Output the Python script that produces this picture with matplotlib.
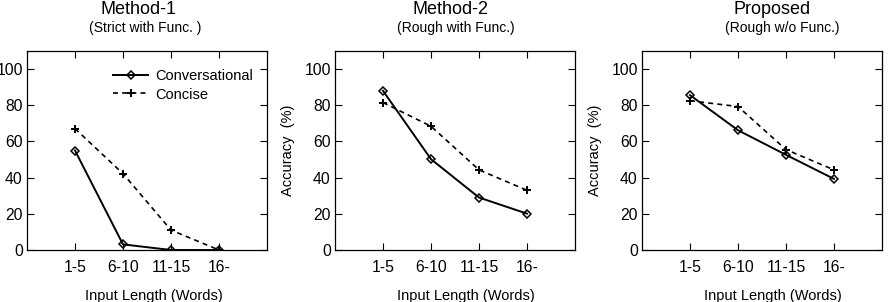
import matplotlib
matplotlib.use("Agg")
import matplotlib.pyplot as plt

plt.rcParams['font.family'] = ['Liberation Sans', 'DejaVu Sans']

categories = ['1-5', '6-10', '11-15', '16-']
titles = ['Method-1', 'Method-2', 'Proposed']
subtitles = ['(Strict with Func. )', '(Rough with Func.)', '(Rough w/o Func.)']

conversational = [
    [55.0, 3.1, 0.0, 0.0],
    [88.0, 50.2, 29.0, 20.1],
    [85.6, 66.2, 52.6, 39.3],
]
concise = [
    [67.1, 42.2, 11.0, 0.0],
    [81.5, 68.4, 44.3, 33.0],
    [82.5, 79.3, 55.5, 44.3],
]
yticks = [0, 20, 40, 60, 80, 100]

W, H = 890, 302
fig = plt.figure(figsize=(W / 100, H / 100), dpi=100)

lefts = [27, 335, 642]
aw, top, bottom = 240, 51, 250
title_x = [139, 450, 772]
sub_x = [145, 456, 782]
xlab_x = [154, 466, 773]

x = list(range(1, len(categories) + 1))
for i in range(3):
    ax = fig.add_axes([lefts[i] / W, 1 - bottom / H, aw / W, (bottom - top) / H])
    ax.plot(x, conversational[i], 'k-', lw=1.4, marker='D', ms=4.5,
            mfc='none', mew=1.1, label='Conversational')
    ax.plot(x, concise[i], 'k--', lw=1.2, marker='+', ms=6,
            mew=1.4, dashes=(3, 2.5), label='Concise')
    ax.set_xlim(0, 5)
    ax.set_ylim(0, 110)
    ax.set_xticks(x)
    ax.set_xticklabels(categories)
    ax.set_yticks(yticks)
    ax.tick_params(direction='in', length=5, width=0.8, labelsize=11.3,
                   top=True, right=True, colors='black')
    ax.tick_params(axis='x', pad=7)
    ax.tick_params(axis='y', pad=3)
    for s in ax.spines.values():
        s.set_linewidth(0.9)
    if i > 0:
        ax.set_ylabel('Accuracy  (%)', fontsize=10.5)
        ax.yaxis.set_label_coords(-0.165, 0.5)
    fig.text(title_x[i] / W, 1 - 10 / H, titles[i], ha='center', va='center', fontsize=13)
    fig.text(sub_x[i] / W, 1 - 28 / H, subtitles[i], ha='center', va='center', fontsize=10)
    fig.text(xlab_x[i] / W, 1 - 296 / H, 'Input Length (Words)', ha='center', va='center', fontsize=10.5)
    if i == 0:
        ax.legend(loc='upper right', bbox_to_anchor=(0.985, 0.96), frameon=False,
                  fontsize=10.5, handlelength=2.4, handletextpad=0.5,
                  labelspacing=0.3, borderpad=0.2)

fig.savefig('out.png', dpi=100)
